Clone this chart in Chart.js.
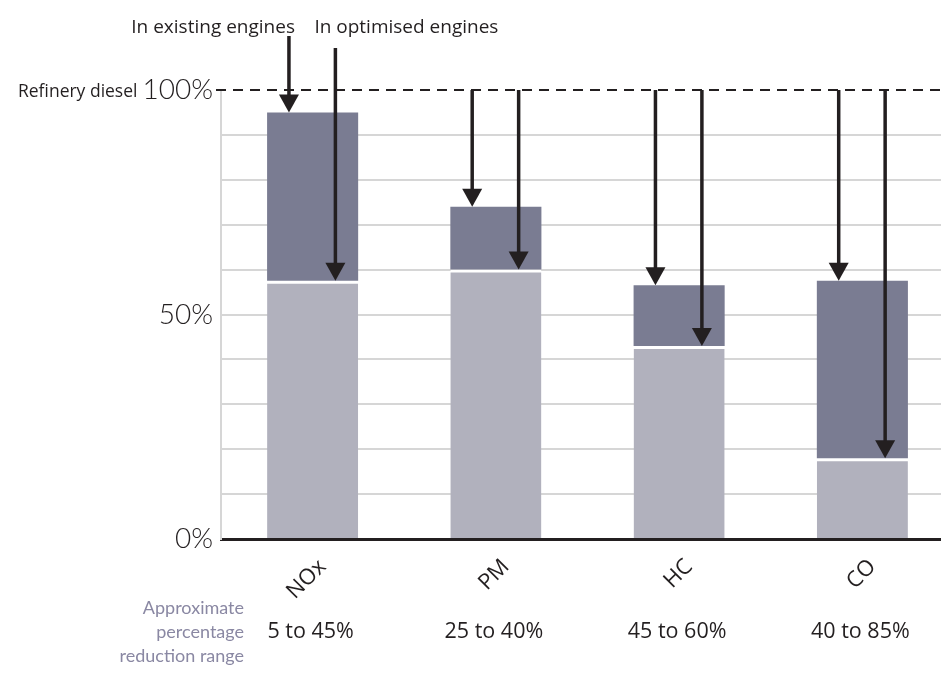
<!DOCTYPE html>
<html>
<head>
<meta charset="utf-8">
<script src="https://cdn.jsdelivr.net/npm/chart.js@4/dist/chart.umd.min.js"></script>
<style>
  html, body { margin: 0; padding: 0; background: #fff; overflow: hidden; }
  #wrap { width: 941px; height: 687px; overflow: hidden; }
  canvas { display: block; }
</style>
</head>
<body>
<div id="wrap"><canvas id="chart" width="954" height="687"></canvas></div>
<script>
// Emissions relative to refinery diesel (%), per pollutant
const categories = ['NOx', 'PM', 'HC', 'CO'];
const existingEngines = [95, 74, 56.5, 57.5];
const optimisedEngines = [57.5, 60, 43, 18];
const reductionRanges = ['5 to 45%', '25 to 40%', '45 to 60%', '40 to 85%'];
const yTickLabels = { 0: '0%', 50: '50%', 100: '100%' };
const baselineLabel = 'Refinery diesel';
const baselineValue = 100;
const rangeCaption = ['Approximate', 'percentage', 'reduction range'];
const arrowCaptions = ['In existing engines', 'In optimised engines'];

const SANS = '"Open Sans", "Noto Sans", sans-serif';
const NARROW = 'Lato, "Open Sans", sans-serif';
const INK = '#231f20';
const DARK_BAR = '#7a7c92';
const LIGHT_BAR = '#b1b1bd';
const GRID = '#d6d6d6';
const CAPTION = '#8a88a3';

function drawArrow(ctx, x, y0, y1) {
  const head = 18, half = 10;
  ctx.save();
  ctx.strokeStyle = INK;
  ctx.fillStyle = INK;
  ctx.lineWidth = 3.5;
  ctx.beginPath();
  ctx.moveTo(x, y0);
  ctx.lineTo(x, y1 - head + 2);
  ctx.stroke();
  ctx.beginPath();
  ctx.moveTo(x - half, y1 - head);
  ctx.lineTo(x + half, y1 - head);
  ctx.lineTo(x, y1);
  ctx.closePath();
  ctx.fill();
  ctx.restore();
}

const annotations = {
  id: 'annotations',
  afterDatasetsDraw(chart) {
    const { ctx, scales: { x, y }, chartArea } = chart;
    const yBase = y.getPixelForValue(baselineValue);

    // dashed reference line at the refinery diesel level
    ctx.save();
    ctx.strokeStyle = INK;
    ctx.lineWidth = 2;
    ctx.setLineDash([10, 7]);
    ctx.beginPath();
    ctx.moveTo(chartArea.left - 5, yBase);
    ctx.lineTo(chart.width, yBase);
    ctx.stroke();
    ctx.restore();

    // "Refinery diesel" prefix to the 100% tick label
    ctx.save();
    ctx.font = '300 28px ' + NARROW;
    const tickW = ctx.measureText(yTickLabels[100]).width;
    ctx.font = '17.5px ' + SANS;
    ctx.fillStyle = INK;
    ctx.textAlign = 'right';
    ctx.textBaseline = 'alphabetic';
    ctx.fillText(baselineLabel, chartArea.left - 8 - tickW - 5, yBase + 7);
    ctx.restore();

    // arrows from the reference level down to each bar
    const bw = chart.getDatasetMeta(0).data[0].width;
    const offExisting = -bw * 0.26;
    const offOptimised = bw * 0.25;
    const headerY = 28;
    categories.forEach((c, i) => {
      const cx = x.getPixelForValue(i);
      const topExisting = i === 0 ? headerY + 8 : yBase;
      const topOptimised = i === 0 ? headerY + 20 : yBase;
      drawArrow(ctx, cx + offExisting, topExisting, y.getPixelForValue(existingEngines[i]));
      drawArrow(ctx, cx + offOptimised, topOptimised, y.getPixelForValue(optimisedEngines[i]));
    });

    // arrow captions above the first pair of arrows
    const cx0 = x.getPixelForValue(0);
    ctx.save();
    ctx.font = '19px ' + SANS;
    ctx.fillStyle = INK;
    ctx.textBaseline = 'middle';
    ctx.textAlign = 'right';
    ctx.fillText(arrowCaptions[0], cx0 + offExisting + 6, headerY);
    ctx.textAlign = 'left';
    ctx.fillText(arrowCaptions[1], cx0 + offOptimised - 21, headerY);
    ctx.restore();

    // reduction ranges under each category
    const rowY = 632;
    ctx.save();
    ctx.font = '21.5px ' + SANS;
    ctx.fillStyle = INK;
    ctx.textAlign = 'center';
    ctx.textBaseline = 'middle';
    reductionRanges.forEach((t, i) => ctx.fillText(t, x.getPixelForValue(i) - 2, rowY));
    ctx.font = '18px ' + NARROW;
    ctx.fillStyle = CAPTION;
    ctx.textAlign = 'right';
    rangeCaption.forEach((t, k) => ctx.fillText(t, chartArea.left + 23, rowY - 24 + k * 24));
    ctx.restore();
  }
};

new Chart(document.getElementById('chart'), {
  type: 'bar',
  data: {
    labels: categories,
    datasets: [
      {
        label: 'In optimised engines',
        data: optimisedEngines,
        backgroundColor: LIGHT_BAR,
        borderColor: '#ffffff',
        borderWidth: { top: 3, left: 0, right: 0, bottom: 0 },
        grouped: false,
        order: 2
      },
      {
        label: 'In existing engines',
        data: categories.map((c, i) => [optimisedEngines[i], existingEngines[i]]),
        backgroundColor: DARK_BAR,
        borderWidth: 0,
        grouped: false,
        order: 1
      }
    ]
  },
  options: {
    responsive: false,
    animation: false,
    devicePixelRatio: 1,
    layout: { padding: { top: 90, right: 0, bottom: 0, left: 0 } },
    categoryPercentage: 1,
    barPercentage: 0.497,
    plugins: {
      legend: { display: false },
      tooltip: { enabled: false }
    },
    scales: {
      x: {
        grid: { color: 'transparent', drawTicks: false },
        border: { color: INK, width: 3 },
        ticks: {
          minRotation: 45,
          maxRotation: 45,
          padding: 15,
          labelOffset: 10,
          color: INK,
          font: { family: SANS, size: 22 }
        },
        afterFit(scale) { scale.height = 687 - 539; }
      },
      y: {
        min: 0,
        max: 100,
        grid: {
          color: ctx => (ctx.tick && ctx.tick.value === baselineValue) ? 'transparent' : GRID,
          lineWidth: 2,
          drawTicks: false
        },
        border: { color: GRID, width: 2 },
        ticks: {
          stepSize: 10,
          padding: 8,
          color: INK,
          font: { family: NARROW, size: 28, weight: '300' },
          callback: v => (yTickLabels[v] !== undefined ? yTickLabels[v] : '')
        },
        afterFit(scale) { scale.width = 221; }
      }
    }
  },
  plugins: [annotations]
});
</script>
</body>
</html>
